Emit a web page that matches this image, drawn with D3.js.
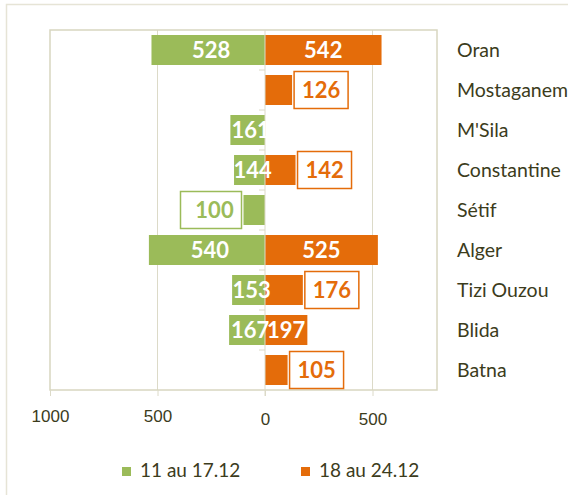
<!DOCTYPE html>
<meta charset="utf-8">
<title>Oran - Batna</title>
<style>
    body { margin:0; background:#fff; }
    svg { font-family: Lato, "Open Sans", sans-serif; }
    .cat, .tick text, .leg { fill:#3c3c1c; }
</style>
<body>
<svg width="568" height="495" id="chart"></svg>
<script src="https://d3js.org/d3.v7.min.js"></script>
<script>
/* data */
var cities = ["Oran", "Mostaganem", "M'Sila", "Constantine", "Sétif", "Alger", "Tizi Ouzou", "Blida", "Batna"];
var week1 = [528, 0, 161, 144, 100, 540, 153, 167, 0];      // 11 au 17.12
var week2 = [542, 126, 0, 142, 0, 525, 176, 197, 105];      // 18 au 24.12
var seriesNames = ["11 au 17.12", "18 au 24.12"];
var tickValues = [-1000, -500, 0, 500];
// labels drawn in a box outside the bar
var boxed1 = ["Sétif"];
var boxed2 = ["Mostaganem", "Constantine", "Tizi Ouzou", "Batna"];

var green = "#9bbb59", orange = "#e46c0a", grid = "#dcdac8";

var svg = d3.select("#chart");

svg.append("rect")
    .attr("x", 6.5).attr("y", 4.5)
    .attr("width", 600).attr("height", 600)
    .attr("fill", "#fff").attr("stroke", "#e6e4d6").attr("stroke-width", 1.5);

var x = d3.scaleLinear().domain([-1000, 800]).range([50, 437]);
var y = d3.scaleBand().domain(cities).range([30, 390]).paddingInner(0.25).paddingOuter(0.125);

/* gridlines */
svg.append("g").selectAll("line")
    .data([-500, 500])
    .enter().append("line")
    .attr("x1", function(d) { return x(d); }).attr("x2", function(d) { return x(d); })
    .attr("y1", 30).attr("y2", 390)
    .attr("stroke", grid).attr("stroke-width", 1);

svg.append("rect")
    .attr("x", 50).attr("y", 30)
    .attr("width", 387).attr("height", 360)
    .attr("fill", "none").attr("stroke", "#d8d6c0").attr("stroke-width", 1.5);

/* x axis */
var xAxis = svg.append("g")
    .attr("transform", "translate(0,390)")
    .call(d3.axisBottom(x)
        .tickValues(tickValues)
        .tickSize(6)
        .tickFormat(function(d) { return Math.abs(d); }));
xAxis.select(".domain").remove();
xAxis.selectAll(".tick line").attr("stroke", grid);
xAxis.selectAll(".tick text")
    .attr("font-size", 17)
    .attr("dy", null)
    .attr("y", function(d) { return d < 0 ? 32 : 35; });

/* bars */
var rows = cities.map(function(c, i) { return {city: c, a: week1[i], b: week2[i]}; });

svg.append("g").selectAll("rect")
    .data(rows.filter(function(d) { return d.a > 0; }))
    .enter().append("rect")
    .attr("x", function(d) { return x(-d.a); })
    .attr("y", function(d) { return y(d.city); })
    .attr("width", function(d) { return x(0) - x(-d.a); })
    .attr("height", y.bandwidth())
    .attr("fill", green);

svg.append("g").selectAll("rect")
    .data(rows.filter(function(d) { return d.b > 0; }))
    .enter().append("rect")
    .attr("x", x(0))
    .attr("y", function(d) { return y(d.city); })
    .attr("width", function(d) { return x(d.b) - x(0); })
    .attr("height", y.bandwidth())
    .attr("fill", orange);

/* zero axis */
svg.append("line")
    .attr("x1", x(0)).attr("x2", x(0))
    .attr("y1", 30).attr("y2", 396)
    .attr("stroke", grid).attr("stroke-width", 1);
svg.append("g").selectAll("line")
    .data(cities.slice(1))
    .enter().append("line")
    .attr("x1", x(0) - 6).attr("x2", x(0))
    .attr("y1", function(d) { return y(d) - y.step() * y.paddingInner() / 2; })
    .attr("y2", function(d) { return y(d) - y.step() * y.paddingInner() / 2; })
    .attr("stroke", grid);

/* value labels */
var lab = svg.append("g").attr("font-weight", "bold").attr("font-size", 22);
var mid = function(d) { return y(d.city) + y.bandwidth() / 2; };

rows.forEach(function(d) {
    if (d.a > 0) {
        if (boxed1.indexOf(d.city) >= 0) {
            var bx = x(-d.a) - 2;
            lab.append("rect")
                .attr("x", bx - 61).attr("y", mid(d) - 18.5)
                .attr("width", 61).attr("height", 37)
                .attr("fill", "#fff").attr("stroke", green).attr("stroke-width", 1.5);
            lab.append("text")
                .attr("x", bx - 27).attr("y", mid(d)).attr("dy", "0.36em")
                .attr("text-anchor", "middle").attr("fill", green)
                .text(d.a);
        } else {
            lab.append("text")
                .attr("x", (x(-d.a) + x(0)) / 2 + 3).attr("y", mid(d)).attr("dy", "0.36em")
                .attr("text-anchor", "middle").attr("fill", "#fff")
                .text(d.a);
        }
    }
    if (d.b > 0) {
        if (boxed2.indexOf(d.city) >= 0) {
            var ox = x(d.b) + 2;
            lab.append("rect")
                .attr("x", ox).attr("y", mid(d) - 18.5)
                .attr("width", 54).attr("height", 37)
                .attr("fill", "#fff").attr("stroke", orange).attr("stroke-width", 1.5);
            lab.append("text")
                .attr("x", ox + 27).attr("y", mid(d)).attr("dy", "0.36em")
                .attr("text-anchor", "middle").attr("fill", orange)
                .text(d.b);
        } else {
            lab.append("text")
                .attr("x", (x(d.b) + x(0)) / 2).attr("y", mid(d)).attr("dy", "0.36em")
                .attr("text-anchor", "middle").attr("fill", "#fff")
                .text(d.b);
        }
    }
});

/* category names */
svg.append("g").selectAll("text")
    .data(cities)
    .enter().append("text")
    .attr("class", "cat")
    .attr("x", 457)
    .attr("y", function(d) { return y(d) + y.bandwidth() / 2; })
    .attr("dy", "0.36em")
    .attr("font-size", 19.5)
    .text(function(d) { return d; });

/* legend */
var legX = [122, 301];
var leg = svg.append("g").selectAll("g")
    .data(seriesNames)
    .enter().append("g")
    .attr("transform", function(d, i) { return "translate(" + legX[i] + ",0)"; });
leg.append("rect")
    .attr("y", 467).attr("width", 9).attr("height", 9)
    .attr("fill", function(d, i) { return i ? orange : green; });
leg.append("text")
    .attr("class", "leg")
    .attr("x", 18).attr("y", 477)
    .attr("font-size", 19)
    .text(function(d) { return d; });
</script>
</body>
